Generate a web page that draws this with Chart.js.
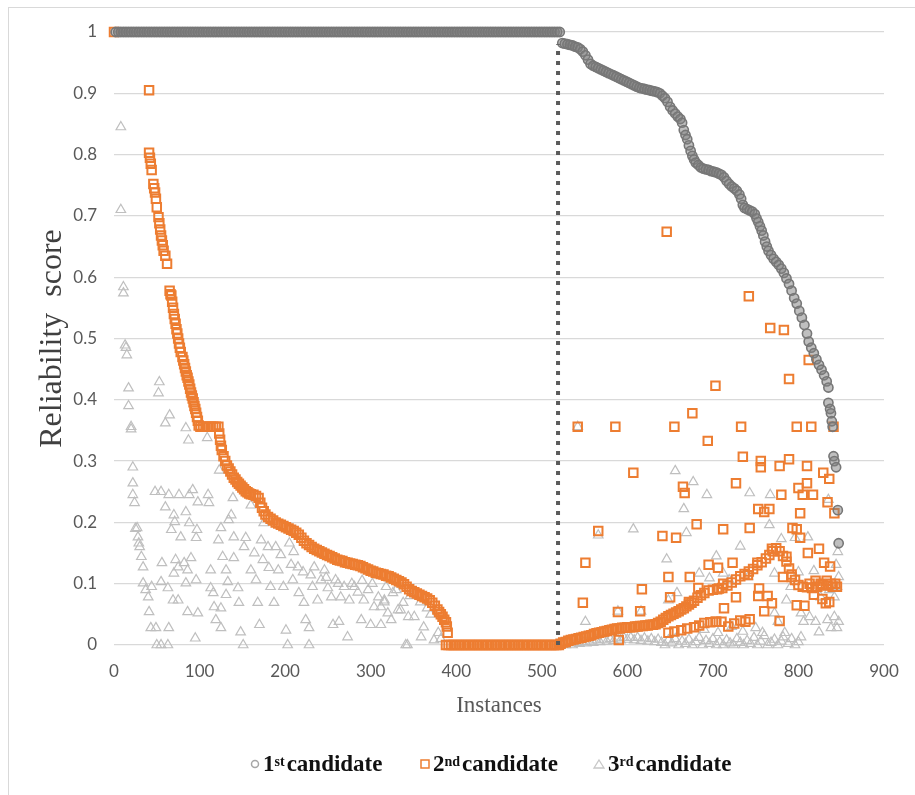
<!DOCTYPE html>
<html>
<head>
<meta charset="utf-8">
<script src="https://cdn.jsdelivr.net/npm/chart.js@4.4.0/dist/chart.umd.min.js"></script>
<style>
  html, body { margin: 0; padding: 0; background: #fff; }
  #wrap { position: relative; width: 915px; height: 795px; overflow: hidden; }
  #frame { position: absolute; left: 8px; top: 7px; width: 930px; height: 820px; border: 1px solid #d9d9d9; box-sizing: border-box; }
  #chart { position: absolute; left: 0; top: 0; }
  .legend-item { position: absolute; top: 751px; font-family: "Liberation Serif", "Times New Roman", serif; font-weight: bold; font-size: 23px; color: #111; white-space: nowrap; display: flex; align-items: center; }
  .legend-item sup { font-size: 14px; position: relative; top: -2px; margin-right: 2px; }
  .legend-item svg { margin-right: 2px; }
</style>
</head>
<body>
<div id="wrap">
  <div id="frame"></div>
  <canvas id="chart" width="915" height="795"></canvas>
  <div class="legend-item" style="left:249px"><svg width="12" height="12"><circle cx="6" cy="6" r="3.5" fill="none" stroke="#a6a6a6" stroke-width="1.5"/></svg>1<sup>st</sup>candidate</div>
  <div class="legend-item" style="left:419px"><svg width="12" height="12"><rect x="2" y="2" width="8" height="8" fill="none" stroke="#ed7d31" stroke-width="1.5"/></svg>2<sup>nd</sup>candidate</div>
  <div class="legend-item" style="left:592px"><svg width="14" height="12"><polygon points="7,2 12,10 2,10" fill="none" stroke="#c8c8c8" stroke-width="1.3"/></svg>3<sup>rd</sup>candidate</div>
</div>
<script>
// Reliability score per instance: [instance, score]

const xTickValues = [0, 100, 200, 300, 400, 500, 600, 700, 800, 900];
const yTickValues = [0, 0.1, 0.2, 0.3, 0.4, 0.5, 0.6, 0.7, 0.8, 0.9, 1];
const yTickLabels = ["0", "0.1", "0.2", "0.3", "0.4", "0.5", "0.6", "0.7", "0.8", "0.9", "1"];

// split between "top candidate is certain" and the rest
const divider = [[519, 0], [519, 0.98]];

const candidate1 = [
  [2,1],[5,1],[8,1],[11,1],[14,1],[17,1],[20,1],[23,1],[26,1],[29,1],[32,1],[35,1],[38,1],[41,1],[44,1],[47,1],[50,1],[53,1],[56,1],[59,1],
  [62,1],[65,1],[68,1],[71,1],[74,1],[77,1],[80,1],[83,1],[86,1],[89,1],[92,1],[95,1],[98,1],[101,1],[104,1],[107,1],[110,1],[113,1],[116,1],[119,1],
  [122,1],[125,1],[128,1],[131,1],[134,1],[137,1],[140,1],[143,1],[146,1],[149,1],[152,1],[155,1],[158,1],[161,1],[164,1],[167,1],[170,1],[173,1],[176,1],[179,1],
  [182,1],[185,1],[188,1],[191,1],[194,1],[197,1],[200,1],[203,1],[206,1],[209,1],[212,1],[215,1],[218,1],[221,1],[224,1],[227,1],[230,1],[233,1],[236,1],[239,1],
  [242,1],[245,1],[248,1],[251,1],[254,1],[257,1],[260,1],[263,1],[266,1],[269,1],[272,1],[275,1],[278,1],[281,1],[284,1],[287,1],[290,1],[293,1],[296,1],[299,1],
  [302,1],[305,1],[308,1],[311,1],[314,1],[317,1],[320,1],[323,1],[326,1],[329,1],[332,1],[335,1],[338,1],[341,1],[344,1],[347,1],[350,1],[353,1],[356,1],[359,1],
  [362,1],[365,1],[368,1],[371,1],[374,1],[377,1],[380,1],[383,1],[386,1],[389,1],[392,1],[395,1],[398,1],[401,1],[404,1],[407,1],[410,1],[413,1],[416,1],[419,1],
  [422,1],[425,1],[428,1],[431,1],[434,1],[437,1],[440,1],[443,1],[446,1],[449,1],[452,1],[455,1],[458,1],[461,1],[464,1],[467,1],[470,1],[473,1],[476,1],[479,1],
  [482,1],[485,1],[488,1],[491,1],[494,1],[497,1],[500,1],[503,1],[506,1],[509,1],[512,1],[515,1],[518,1],[521,1],
  [524,0.982],[527,0.981],[530,0.98],[533,0.979],[536,0.978],[539,0.976],[542,0.975],[545,0.972],[548,0.968],[551,0.962],[554,0.955],[557,0.948],
  [560,0.945],[563,0.943],[566,0.941],[569,0.939],[572,0.937],[575,0.935],[578,0.933],[581,0.931],[584,0.929],[587,0.927],[590,0.925],[593,0.923],
  [596,0.921],[599,0.919],[602,0.917],[605,0.915],[608,0.913],[611,0.911],[614,0.909],[617,0.908],[620,0.907],[623,0.906],[626,0.905],[629,0.904],
  [632,0.903],[635,0.902],[638,0.9],[641,0.896],[644,0.892],[647,0.886],[650,0.878],[653,0.872],[656,0.867],[659,0.862],[662,0.858],[664,0.852],
  [666,0.84],[668,0.832],[670,0.825],[672,0.815],[674,0.806],[676,0.798],[678,0.792],[680,0.787],[683,0.783],[686,0.779],[689,0.777],[692,0.776],
  [695,0.775],[698,0.773],[701,0.772],[704,0.771],[707,0.769],[710,0.767],[713,0.763],[716,0.757],[719,0.752],[722,0.748],[725,0.745],[728,0.741],
  [731,0.735],[733,0.728],[735,0.718],[737,0.713],[740,0.711],[743,0.709],[746,0.707],[749,0.703],[751,0.696],[753,0.69],[755,0.683],[757,0.676],
  [759,0.668],[761,0.658],[763,0.65],[765,0.643],[768,0.636],[771,0.63],[774,0.625],[777,0.62],[780,0.614],[783,0.607],[786,0.598],[789,0.589],
  [792,0.578],[795,0.566],[798,0.557],[801,0.545],[804,0.534],[807,0.522],[810,0.508],[812,0.495],[815,0.485],[818,0.476],[821,0.466],[824,0.457],
  [827,0.449],[830,0.44],[833,0.43],[835,0.42],[835,0.395],[837,0.385],[838,0.378],[839,0.365],[840,0.356],[841,0.308],[842,0.3],[844,0.29],
  [846,0.22],[847,0.166]
];

const candidate2 = [
  [0,1],[41,0.905],[41,0.803],[42,0.795],[43,0.785],[44,0.775],[46,0.752],[47,0.745],[48,0.738],[49,0.728],[50,0.714],[52,0.698],[53,0.688],
  [54,0.678],[55,0.668],[56,0.66],[57,0.652],[58,0.643],[60,0.635],[62,0.622],[65,0.578],[66,0.572],[67,0.57],[68,0.56],[69,0.55],[70,0.54],
  [71,0.532],[72,0.524],[73,0.515],[74,0.508],[75,0.5],[76,0.492],[77,0.485],[78,0.478],[80,0.47],[81,0.464],[82,0.458],[83,0.452],[84,0.446],
  [85,0.44],[86,0.436],[87,0.43],[88,0.425],[89,0.418],[90,0.412],[91,0.407],[92,0.402],[93,0.396],[94,0.39],[95,0.385],[96,0.379],[97,0.372],
  [98,0.366],[99,0.358],[101,0.356],[104,0.356],[107,0.356],[110,0.356],[113,0.356],[116,0.356],[119,0.356],[122,0.356],
  [123,0.345],[124,0.335],[125,0.325],[126,0.318],[128,0.308],[130,0.3],[132,0.293],[134,0.288],[136,0.283],[138,0.278],[140,0.273],[142,0.27],
  [144,0.266],[146,0.263],[148,0.26],[150,0.257],[152,0.254],[154,0.251],[156,0.249],[158,0.247],[160,0.246],[163,0.245],[166,0.243],[169,0.24],
  [171,0.232],[173,0.224],[175,0.218],[177,0.213],[180,0.209],[183,0.206],[186,0.203],[189,0.2],[192,0.198],[195,0.196],[198,0.194],[201,0.192],
  [204,0.19],[207,0.188],[210,0.186],[213,0.183],[216,0.18],[219,0.175],[222,0.17],[225,0.166],[228,0.163],[231,0.16],[234,0.157],[237,0.155],
  [240,0.153],[243,0.151],[246,0.149],[249,0.147],[252,0.145],[255,0.143],[258,0.141],[261,0.139],[264,0.138],[267,0.137],[270,0.135],[273,0.134],
  [276,0.133],[279,0.132],[282,0.131],[285,0.13],[288,0.129],[291,0.127],[294,0.125],[297,0.123],[300,0.121],[303,0.12],[306,0.118],[309,0.117],
  [312,0.116],[315,0.115],[318,0.113],[321,0.112],[324,0.11],[327,0.108],[330,0.106],[333,0.104],[336,0.102],[339,0.099],[342,0.095],[345,0.091],
  [348,0.088],[351,0.086],[354,0.084],[357,0.082],[360,0.08],[363,0.078],[366,0.076],[369,0.073],[372,0.069],[375,0.064],[378,0.058],[380,0.054],
  [382,0.05],[384,0.046],[386,0.041],[388,0.037],[389,0.03],[390,0.02],
  [388,0],[391,0],[394,0],[397,0],[400,0],[403,0],[406,0],[409,0],[412,0],[415,0],[418,0],[421,0],[424,0],[427,0],[430,0],[433,0],[436,0],
  [439,0],[442,0],[445,0],[448,0],[451,0],[454,0],[457,0],[460,0],[463,0],[466,0],[469,0],[472,0],[475,0],[478,0],[481,0],[484,0],[487,0],
  [490,0],[493,0],[496,0],[499,0],[502,0],[505,0],[508,0],[511,0],[514,0],[517,0],[520,0],
  [522,0.002],[525,0.004],[528,0.005],[531,0.007],[534,0.008],[537,0.009],[540,0.01],[543,0.011],[546,0.012],[549,0.013],[552,0.014],[555,0.015],
  [558,0.016],[561,0.018],[564,0.019],[567,0.02],[570,0.021],[573,0.022],[576,0.023],[579,0.024],[582,0.025],[585,0.026],[588,0.027],[591,0.027],
  [594,0.028],[597,0.028],[600,0.029],[603,0.029],[606,0.029],[609,0.03],[612,0.03],[615,0.031],[618,0.031],[621,0.032],[624,0.032],[627,0.033],
  [630,0.033],[633,0.034],[636,0.036],[639,0.038],[642,0.041],[645,0.044],[648,0.047],[651,0.049],[654,0.051],[657,0.053],[660,0.055],[663,0.058],
  [666,0.06],[669,0.063],[672,0.066],[675,0.069],[678,0.072],[682,0.077],[686,0.081],[690,0.085],[695,0.089],[700,0.09],[705,0.091],[711,0.093],
  [717,0.097],[722,0.102],[727,0.107],[732,0.112],[737,0.116],[742,0.12],[747,0.124],[752,0.13],[757,0.135],[762,0.141],[766,0.147],[770,0.153],
  [774,0.158],[778,0.153],[782,0.145],[786,0.136],[789,0.125],[792,0.115],[796,0.106],[800,0.098],[805,0.095],[810,0.094],[816,0.093],[822,0.095],
  [828,0.098],[834,0.097],[840,0.095],[845,0.095],
  [648,0.02],[655,0.022],[663,0.024],[670,0.027],[678,0.029],[684,0.032],[690,0.036],[697,0.037],[704,0.038],[710,0.038],[718,0.03],[725,0.035],
  [732,0.04],[738,0.038],[743,0.042],[590,0.008],
  [542,0.356],[586,0.356],[655,0.356],[733,0.356],[798,0.356],[815,0.356],[841,0.356],
  [646,0.674],[742,0.569],[767,0.517],[783,0.514],[812,0.465],[789,0.434],[703,0.423],[676,0.378],[694,0.333],
  [735,0.307],[756,0.3],[756,0.29],[778,0.292],[789,0.303],[810,0.292],[829,0.281],[836,0.271],[607,0.281],
  [727,0.264],[665,0.258],[667,0.248],[780,0.245],[800,0.256],[805,0.245],[810,0.264],[817,0.245],[834,0.233],[842,0.215],
  [753,0.222],[760,0.217],[766,0.222],[802,0.215],[681,0.197],[712,0.189],[743,0.191],[793,0.191],[798,0.189],[802,0.175],
  [566,0.186],[641,0.178],[657,0.175],[769,0.157],[811,0.15],[824,0.157],
  [551,0.134],[695,0.131],[706,0.126],[723,0.134],[752,0.134],[786,0.144],[830,0.134],[837,0.128],
  [648,0.111],[673,0.111],[741,0.114],[782,0.111],[792,0.111],[617,0.091],[683,0.093],[707,0.092],[712,0.1],[754,0.092],[753,0.08],[764,0.08],
  [769,0.068],[760,0.055],[798,0.065],[807,0.064],[832,0.068],[727,0.078],[713,0.06],[703,0.038],[778,0.039],[650,0.078],[548,0.069],[589,0.054],
  [615,0.055],[672,0.07],[813,0.1],[820,0.105],[826,0.1],[833,0.105],[838,0.1],[843,0.1],[818,0.082],[828,0.075],[836,0.07]
];

const candidate3 = [
  [8,0.845],[8,0.71],[11,0.584],[11,0.574],[13,0.489],[14,0.485],[15,0.473],[17,0.419],[17,0.39],[20,0.356],[20,0.352],[22,0.29],[22,0.264],
  [22,0.245],[24,0.232],[25,0.19],[27,0.191],[28,0.176],[29,0.166],[30,0.16],[32,0.144],[34,0.127],[34,0.101],[37,0.09],[40,0.078],[41,0.054],
  [44,0.095],[43,0.028],[49,0.028],[50,0],[55,0],[63,0],[48,0.25],[55,0.25],[64,0.245],[60,0.225],[56,0.134],[55,0.103],[63,0.093],[64,0.028],
  [70,0.212],[67,0.188],[71,0.201],[76,0.245],[78,0.176],[72,0.139],[75,0.127],[70,0.117],[69,0.073],[75,0.073],[84,0.217],[88,0.199],[88,0.245],
  [92,0.253],[98,0.233],[97,0.188],[96,0.175],[90,0.142],[82,0.134],[86,0.122],[84,0.101],[96,0.106],[86,0.054],[98,0.052],[95,0.011],[110,0.245],
  [111,0.232],[113,0.122],[113,0.093],[116,0.085],[117,0.062],[119,0.041],[122,0.171],[125,0.191],[127,0.144],[123,0.285],[125,0.06],[125,0.028],
  [131,0.122],[131,0.082],[133,0.103],[134,0.204],[137,0.212],[139,0.24],[140,0.142],[140,0.176],[145,0.093],[146,0.069],[148,0.021],[151,0],
  [152,0.16],[154,0.175],[160,0.122],[160,0.228],[164,0.15],[166,0.106],[168,0.069],[170,0.033],[172,0.171],[174,0.139],[175,0.199],[180,0.16],
  [181,0.126],[183,0.095],[187,0.069],[189,0.16],[192,0.122],[195,0.147],[198,0.095],[201,0.024],[203,0],[205,0.166],[207,0.131],[209,0.106],
  [210,0.152],[215,0.127],[216,0.085],[221,0.119],[222,0.069],[224,0.041],[228,0.028],[228,0],[230,0.114],[232,0.095],[234,0.127],[238,0.073],
  [242,0.106],[246,0.122],[250,0.093],[254,0.078],[256,0.033],[259,0.106],[263,0.038],[265,0.078],[269,0.095],[273,0.013],[275,0.073],[281,0.095],
  [285,0.086],[289,0.041],[292,0.073],[297,0.09],[300,0.033],[304,0.062],[309,0.078],[312,0.033],[316,0.073],[320,0.052],[326,0.085],[332,0.057],
  [338,0.069],[341,0],[344,0.046],[312,0.062],[324,0.041],[343,0],[359,0.013],[374,0.008],[316,0.07],[335,0.057],[351,0.046],[362,0.029],[379,0.02],
  [382,0.01],[53,0.429],[52,0.411],[65,0.375],[60,0.362],[84,0.354],[87,0.334],[109,0.338],
  [248,0.11],[262,0.1],[278,0.1],[290,0.105],[302,0.1],[318,0.095],[330,0.09],[346,0.08],[358,0.07],[366,0.06],[370,0.05],
  [656,0.284],[677,0.266],[666,0.222],[607,0.189],[693,0.245],[743,0.248],[767,0.245],[766,0.196],[669,0.183],[780,0.173],[732,0.161],[796,0.175],
  [811,0.176],[646,0.14],[704,0.145],[684,0.117],[696,0.109],[712,0.117],[719,0.106],[741,0.111],[772,0.117],[800,0.119],[791,0.095],[658,0.085],
  [648,0.073],[818,0.121],[835,0.237],[846,0.152],[844,0.131],[847,0.111],[845,0.095],[826,0.078],[836,0.09],[842,0.078],[786,0.073],[772,0.052],
  [776,0.038],[803,0.052],[806,0.038],[813,0.046],[820,0.038],[834,0.041],[842,0.046],[847,0.038],[824,0.021],[838,0.028],[845,0.028],[803,0.013],
  [782,0.013],[589,0.055],[616,0.055],[566,0.179],[551,0.038],[542,0.356],
  [690,0.025],[706,0.02],[722,0.03],[735,0.022],[750,0.028],[758,0.02],
  [528,0],[532,0.003],[536,0],[540,0.004],[544,0.002],[548,0.005],[552,0.003],[556,0.006],[560,0.004],[564,0.008],[568,0.005],[572,0.009],
  [576,0.006],[580,0.01],[584,0.007],[588,0.011],[592,0.008],[596,0.012],[600,0.009],[604,0.012],[608,0.008],[612,0.012],[616,0.007],[620,0.011],
  [624,0.006],[628,0.01],[632,0.005],[636,0.009],[640,0.004],[644,0],[648,0.008],[652,0.003],[656,0.01],[660,0],[664,0.006],[668,0.002],
  [672,0.009],[676,0],[680,0.005],[684,0.012],[688,0],[692,0.007],[696,0.002],[700,0.01],[704,0],[708,0.005],[712,0],[716,0.008],[720,0.003],
  [724,0],[728,0.01],[732,0.004],[736,0],[740,0.007],[744,0.002],[748,0.012],[752,0],[756,0.006],[760,0.015],[764,0],[768,0.004],[772,0.009],
  [776,0],[780,0.006],[784,0.02],[788,0.002],[792,0.01],[796,0],[800,0.005]
];

const PLOT_LEFT = 114;     // x of instance 0
const PLOT_BOTTOM_H = 150; // space below the plot for tick labels and title

const chart = new Chart(document.getElementById("chart"), {
  type: "scatter",
  data: {
    datasets: [
      { data: divider, showLine: true, order: -1, borderColor: "#5a5a5a", borderWidth: 4, borderDash: [4, 6], borderCapStyle: "butt", pointRadius: 0 },
      // circles overlap so densely in the original that they read as a solid band
      { data: candidate1, pointStyle: "circle", pointRadius: 4.6, pointBorderWidth: 1.6, borderColor: "#777777", backgroundColor: "rgba(127,127,127,0.5)" },
      { data: candidate2, pointStyle: "rect", pointRadius: 6, pointBorderWidth: 2, borderColor: "#ed7d31", backgroundColor: "rgba(0,0,0,0)" },
      { data: candidate3, pointStyle: "triangle", pointRadius: 5.5, pointBorderWidth: 1.2, borderColor: "#bfbfbf", backgroundColor: "rgba(0,0,0,0)" },
    ],
  },
  options: {
    responsive: false,
    animation: false,
    devicePixelRatio: 1,
    clip: false,
    layout: { padding: { left: 0, top: 32, right: 31, bottom: 0 } },
    plugins: { legend: { display: false }, tooltip: { enabled: false } },
    scales: {
      x: {
        type: "linear", min: 0, max: 900,
        afterBuildTicks: (s) => { s.ticks = xTickValues.map(v => ({ value: v })); },
        afterFit: (s) => { s.height = PLOT_BOTTOM_H; },
        grid: { display: false, drawTicks: false },
        border: { display: false },
        ticks: { padding: 16, color: "#595959", font: { family: "Lato", size: 17 } },
        title: { display: true, text: "Instances", color: "#595959", padding: { top: 0, bottom: 75 }, font: { family: "Liberation Serif", size: 23 } },
      },
      y: {
        type: "linear", min: 0, max: 1,
        afterBuildTicks: (s) => { s.ticks = yTickValues.map(v => ({ value: v })); },
        afterFit: (s) => { s.width = PLOT_LEFT; },
        grid: { color: "#d9d9d9", lineWidth: 1.3, drawTicks: false },
        border: { display: false },
        ticks: {
          padding: 17, color: "#595959", font: { family: "Lato", size: 17 },
          callback: (v, i) => yTickLabels[i],
        },
        title: { display: true, text: "Reliability  score", color: "#404040", padding: { top: 33, bottom: 0 }, font: { family: "Liberation Serif", size: 32 } },
      },
    },
  },
});
</script>
</body>
</html>
